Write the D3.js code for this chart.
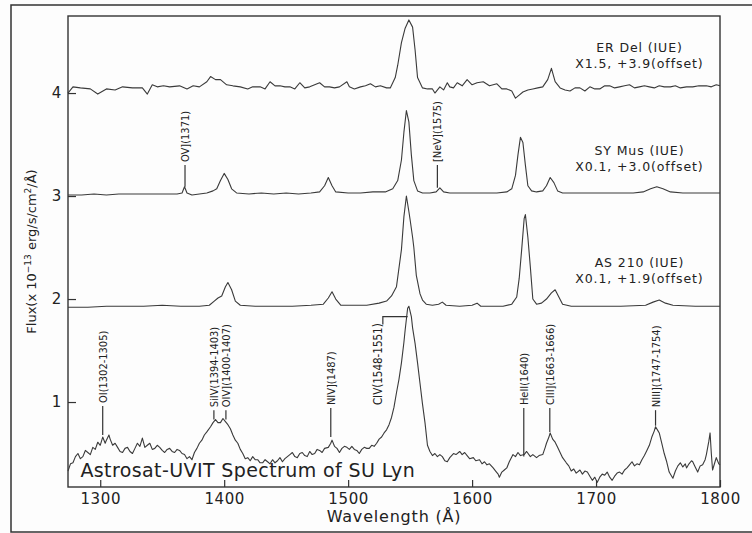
<!DOCTYPE html>
<html>
<head>
<meta charset="utf-8">
<script src="https://d3js.org/d3.v7.min.js"></script>
<style>
  body { margin: 0; background: #fdfdfd; }
  text { font-family: "DejaVu Sans", sans-serif; fill: #222; }
</style>
</head>
<body>
<script>
// spectra as [wavelength (A), plotted flux (already scaled + offset)]
const erDel = [[1274,4.00],[1278,4.06],[1284,4.05],[1292,4.04],[1298,3.99],[1305,4.04],[1312,4.03],[1318,4.06],[1326,4.05],[1334,4.05],[1338,3.99],[1342,4.08],[1346,4.06],[1351,4.07],[1356,4.06],[1364,4.07],[1370,4.04],[1375,4.07],[1380,4.06],[1386,4.11],[1389,4.16],[1393,4.13],[1397,4.13],[1402,4.08],[1407,4.07],[1413,4.06],[1419,4.04],[1423,4.06],[1429,4.06],[1433,4.04],[1437,4.11],[1441,4.07],[1445,4.07],[1449,4.06],[1453,4.06],[1457,4.04],[1461,4.10],[1465,4.05],[1469,4.06],[1473,4.08],[1477,4.10],[1481,4.06],[1485,4.06],[1489,4.05],[1493,4.06],[1499,4.11],[1501,4.06],[1505,4.04],[1510,4.06],[1514,4.07],[1518,4.09],[1522,4.06],[1526,4.07],[1531,4.05],[1534,4.05],[1538,4.15],[1540,4.27],[1543,4.49],[1546,4.63],[1549,4.71],[1552,4.64],[1554,4.42],[1556,4.15],[1560,4.05],[1564,4.04],[1568,4.04],[1570,4.00],[1574,4.06],[1577,4.03],[1580,4.10],[1582,4.06],[1585,4.05],[1588,4.10],[1592,4.07],[1596,4.13],[1600,4.08],[1604,4.10],[1609,4.11],[1614,4.07],[1620,4.09],[1624,4.04],[1628,4.04],[1632,4.02],[1635,3.95],[1638,3.98],[1641,4.01],[1645,4.03],[1649,4.04],[1653,4.05],[1657,4.06],[1661,4.13],[1664,4.24],[1667,4.11],[1671,4.05],[1675,4.03],[1679,4.02],[1683,4.05],[1687,4.05],[1691,4.02],[1695,4.06],[1699,4.04],[1703,4.04],[1707,4.07],[1711,4.07],[1715,4.05],[1719,4.06],[1723,4.07],[1727,4.08],[1731,4.05],[1735,4.06],[1739,4.07],[1743,4.06],[1747,4.05],[1751,4.07],[1755,4.06],[1760,4.06],[1764,4.07],[1768,4.05],[1773,4.06],[1778,4.06],[1783,4.07],[1789,4.07],[1793,4.06],[1797,4.08],[1800,4.07]];

const syMus = [[1274,3.01],[1285,3.01],[1295,3.02],[1305,3.01],[1315,3.02],[1325,3.02],[1335,3.02],[1345,3.02],[1355,3.02],[1362,3.02],[1366,3.03],[1368,3.09],[1370,3.03],[1374,3.01],[1380,3.02],[1386,3.03],[1391,3.05],[1394,3.07],[1397,3.15],[1400,3.22],[1403,3.16],[1406,3.07],[1410,3.03],[1420,3.02],[1430,3.03],[1440,3.02],[1450,3.03],[1460,3.02],[1470,3.03],[1477,3.04],[1481,3.10],[1484,3.18],[1487,3.10],[1490,3.04],[1500,3.03],[1510,3.03],[1520,3.04],[1530,3.04],[1536,3.07],[1540,3.15],[1543,3.35],[1545,3.62],[1547,3.83],[1549,3.72],[1551,3.40],[1553,3.15],[1556,3.05],[1560,3.03],[1566,3.03],[1571,3.04],[1574,3.08],[1577,3.04],[1582,3.03],[1590,3.03],[1600,3.03],[1610,3.03],[1620,3.03],[1628,3.04],[1632,3.07],[1635,3.20],[1637,3.40],[1639,3.57],[1641,3.52],[1643,3.30],[1645,3.10],[1648,3.05],[1652,3.04],[1657,3.05],[1660,3.10],[1663,3.18],[1666,3.13],[1669,3.05],[1673,3.03],[1680,3.03],[1690,3.03],[1700,3.03],[1710,3.03],[1720,3.03],[1730,3.03],[1738,3.04],[1744,3.07],[1749,3.09],[1754,3.07],[1760,3.04],[1770,3.03],[1780,3.03],[1790,3.03],[1800,3.03]];

const as210 = [[1274,1.92],[1290,1.92],[1305,1.93],[1320,1.93],[1335,1.93],[1350,1.94],[1365,1.93],[1380,1.93],[1388,1.94],[1392,1.98],[1395,2.01],[1398,2.03],[1401,2.12],[1403,2.16],[1406,2.09],[1409,1.98],[1413,1.94],[1425,1.93],[1440,1.93],[1455,1.93],[1470,1.94],[1480,1.95],[1484,2.01],[1487,2.07],[1490,2.00],[1494,1.94],[1505,1.94],[1515,1.94],[1525,1.96],[1531,1.98],[1535,2.03],[1539,2.12],[1543,2.48],[1545,2.80],[1547,3.00],[1549,2.85],[1550,2.77],[1552,2.60],[1553,2.50],[1555,2.23],[1558,2.05],[1560,1.99],[1563,1.95],[1568,1.94],[1573,1.95],[1576,1.97],[1579,1.94],[1590,1.93],[1600,1.94],[1604,1.96],[1607,1.93],[1615,1.93],[1625,1.93],[1632,1.95],[1636,2.02],[1638,2.20],[1640,2.48],[1642,2.78],[1643,2.82],[1645,2.60],[1647,2.31],[1649,2.00],[1652,1.95],[1656,1.96],[1660,2.00],[1664,2.06],[1667,2.09],[1670,2.02],[1673,1.95],[1680,1.93],[1700,1.93],[1720,1.93],[1740,1.94],[1746,1.97],[1751,1.99],[1756,1.96],[1762,1.94],[1780,1.93],[1800,1.93]];

const suLyn = [[1274,.33],[1276,.40],[1278,.41],[1280,.47],[1282,.50],[1284,.45],[1286,.47],[1288,.53],[1290,.51],[1292,.49],[1294,.56],[1296,.54],[1298,.61],[1300,.58],[1302,.66],[1304,.60],[1305,.63],[1307,.68],[1308,.64],[1310,.58],[1312,.60],[1314,.56],[1316,.52],[1318,.51],[1320,.55],[1322,.56],[1324,.52],[1326,.50],[1328,.55],[1330,.60],[1332,.57],[1334,.65],[1336,.56],[1338,.58],[1340,.60],[1342,.54],[1344,.55],[1346,.58],[1348,.56],[1350,.53],[1352,.51],[1354,.54],[1356,.55],[1358,.52],[1360,.51],[1362,.54],[1364,.53],[1366,.50],[1368,.49],[1370,.45],[1372,.47],[1374,.44],[1376,.51],[1378,.55],[1380,.60],[1382,.63],[1384,.68],[1386,.71],[1389,.76],[1391,.80],[1393,.83],[1395,.80],[1397,.80],[1399,.84],[1401,.81],[1403,.78],[1405,.74],[1407,.68],[1409,.63],[1411,.60],[1413,.54],[1415,.50],[1417,.45],[1419,.46],[1421,.43],[1423,.47],[1425,.44],[1427,.44],[1429,.41],[1431,.41],[1433,.44],[1435,.42],[1437,.40],[1439,.44],[1441,.41],[1443,.43],[1445,.46],[1447,.42],[1449,.45],[1451,.47],[1453,.49],[1455,.51],[1457,.47],[1459,.46],[1461,.50],[1463,.51],[1465,.48],[1467,.47],[1469,.52],[1471,.49],[1473,.50],[1475,.54],[1477,.53],[1479,.51],[1481,.55],[1484,.56],[1486,.60],[1487,.63],[1489,.57],[1491,.55],[1493,.51],[1495,.55],[1497,.57],[1499,.56],[1501,.54],[1503,.57],[1505,.54],[1507,.53],[1509,.50],[1511,.54],[1513,.56],[1515,.55],[1517,.55],[1519,.58],[1521,.57],[1523,.60],[1525,.64],[1527,.66],[1529,.70],[1531,.73],[1533,.78],[1535,.85],[1537,.95],[1539,1.09],[1541,1.22],[1543,1.38],[1545,1.58],[1546,1.70],[1548,1.91],[1549,1.93],[1551,1.83],[1552,1.72],[1554,1.57],[1556,1.38],[1558,1.18],[1560,.98],[1562,.80],[1564,.58],[1566,.52],[1568,.48],[1570,.50],[1572,.47],[1574,.49],[1576,.47],[1578,.43],[1580,.42],[1582,.46],[1585,.50],[1587,.49],[1590,.52],[1592,.49],[1594,.51],[1596,.48],[1598,.45],[1601,.46],[1603,.43],[1606,.44],[1608,.40],[1610,.42],[1612,.39],[1614,.40],[1617,.36],[1619,.33],[1621,.30],[1622,.27],[1624,.32],[1626,.34],[1628,.36],[1630,.42],[1633,.49],[1635,.47],[1637,.51],[1639,.48],[1642,.49],[1644,.52],[1647,.47],[1649,.49],[1652,.46],[1654,.48],[1657,.49],[1659,.56],[1660,.60],[1662,.66],[1663,.70],[1665,.64],[1667,.61],[1669,.56],[1671,.51],[1673,.46],[1676,.41],[1678,.38],[1680,.33],[1682,.35],[1684,.31],[1687,.34],[1689,.30],[1691,.33],[1693,.32],[1695,.28],[1697,.24],[1699,.27],[1701,.22],[1703,.27],[1705,.30],[1707,.29],[1709,.32],[1711,.27],[1713,.24],[1715,.28],[1717,.31],[1719,.32],[1721,.30],[1723,.34],[1725,.36],[1727,.39],[1729,.42],[1731,.38],[1733,.40],[1735,.39],[1737,.44],[1739,.48],[1741,.53],[1743,.58],[1745,.66],[1747,.72],[1748,.76],[1750,.72],[1751,.70],[1753,.60],[1755,.50],[1757,.42],[1759,.32],[1761,.28],[1762,.26],[1764,.33],[1766,.38],[1768,.41],[1770,.37],[1772,.40],[1773,.36],[1775,.40],[1777,.43],[1778,.42],[1780,.37],[1782,.32],[1784,.38],[1786,.39],[1788,.44],[1789,.49],[1791,.62],[1792,.70],[1793,.50],[1794,.34],[1796,.42],[1797,.46],[1799,.40],[1800,.39]];

const xTicks = [1300, 1400, 1500, 1600, 1700, 1800];
const yTicks = [1, 2, 3, 4];

// line identifications: label, wavelength, flux at label foot, flux at tick end
const lineLabels = [
  ["OI(1302-1305)", 1302, 0.99, 0.68],
  ["SiIV(1394-1403)", 1391.7, 0.95, 0.83],
  ["OIV](1400-1407)", 1401.4, 0.95, 0.83],
  ["NIV](1487)", 1486, 0.97, 0.66],
  ["HeII(1640)", 1641.7, 0.97, 0.47],
  ["CIII](1663-1666)", 1662.7, 0.97, 0.71],
  ["NIII](1747-1754)", 1748, 0.95, 0.77],
  ["OV](1371)", 1368.4, 3.33, 3.09],
  ["[NeV](1575)", 1572, 3.33, 3.08]
];
// CIV label sits left of the peak with a bracket
const civLabel = ["CIV(1548-1551)", 1524, 0.97, 1.83, 1528, 1548];

// source labels: two lines, wavelength of centre, flux of each line
const sourceNames = ["ER Del (IUE)", "SY Mus (IUE)", "AS 210 (IUE)"];
const sourceScales = ["X1.5, +3.9(offset)", "X0.1, +3.0(offset)", "X0.1, +1.9(offset)"];
const sourceFlux = [[4.445, 4.29], [3.445, 3.29], [2.355, 2.195]];

// set the dimensions and margins of the graph
const W = 752, H = 533;
const margin = { top: 16, right: 32, bottom: 46, left: 68 };

const svg = d3.select("body")
  .append("svg")
  .attr("width", W)
  .attr("height", H);

// outer frame of the figure
svg.append("rect")
  .attr("x", 11).attr("y", 5)
  .attr("width", 770).attr("height", 527)
  .attr("fill", "none")
  .attr("stroke", "#333")
  .attr("stroke-width", 1.5);

const x = d3.scaleLinear().domain([1274, 1800]).range([margin.left, W - margin.right]);
const y = d3.scaleLinear().domain([0.175, 4.748]).range([H - margin.bottom, margin.top]);

// axes with inward ticks
const xAxis = svg.append("g")
  .attr("transform", `translate(0, ${H - margin.bottom})`)
  .call(d3.axisBottom(x).tickValues(xTicks).tickSize(-7).tickPadding(6).tickFormat(d3.format("d")));
const yAxis = svg.append("g")
  .attr("transform", `translate(${margin.left}, 0)`)
  .call(d3.axisLeft(y).tickValues(yTicks).tickSize(-8).tickPadding(6).tickFormat(d3.format("d")));

[xAxis, yAxis].forEach(g => {
  g.select(".domain").remove();
  g.selectAll(".tick line").attr("stroke", "#333").attr("stroke-width", 1.2);
  g.selectAll("text")
    .attr("fill", "#222")
    .style("font-size", "15px")
    .style("letter-spacing", "0.6px")
    .style("font-family", "DejaVu Sans");
});

// plot frame
svg.append("rect")
  .attr("x", x(1274)).attr("y", y(4.748))
  .attr("width", x(1800) - x(1274)).attr("height", y(0.175) - y(4.748))
  .attr("fill", "none")
  .attr("stroke", "#333")
  .attr("stroke-width", 1.4);

// spectra
const line = d3.line().x(d => x(d[0])).y(d => y(d[1]));
[erDel, syMus, as210, suLyn].forEach(s => {
  svg.append("path")
    .datum(s)
    .attr("d", line)
    .attr("fill", "none")
    .attr("stroke", "#3a3a3a")
    .attr("stroke-width", 1.1)
    .attr("stroke-linejoin", "round");
});

// line identifications, text runs upward from the foot
const ids = svg.append("g");
lineLabels.forEach(d => {
  const px = x(d[1]);
  ids.append("text")
    .attr("transform", `translate(${px + 4}, ${y(d[2])}) rotate(-90)`)
    .style("font-size", "11px")
    .style("font-family", "DejaVu Sans Condensed, DejaVu Sans")
    .text(d[0]);
  ids.append("line")
    .attr("x1", px).attr("x2", px)
    .attr("y1", y(d[2]) + 3).attr("y2", y(d[3]))
    .attr("stroke", "#333").attr("stroke-width", 1.2);
});
ids.append("text")
  .attr("transform", `translate(${x(civLabel[1]) + 4}, ${y(civLabel[2])}) rotate(-90)`)
  .style("font-size", "11.5px")
  .style("font-family", "DejaVu Sans Condensed, DejaVu Sans")
  .text(civLabel[0]);
ids.append("path")
  .attr("d", `M${x(civLabel[4])},${y(civLabel[3]) + 8}V${y(civLabel[3])}H${x(civLabel[5])}`)
  .attr("fill", "none")
  .attr("stroke", "#333").attr("stroke-width", 1.2);

// source labels
sourceNames.forEach((n, i) => {
  [n, sourceScales[i]].forEach((t, j) => {
    svg.append("text")
      .attr("x", x(1735))
      .attr("y", y(sourceFlux[i][j]))
      .attr("text-anchor", "middle")
      .attr("dominant-baseline", "central")
      .attr("fill", "#333")
      .style("font-size", "12.5px")
      .style("letter-spacing", "0.9px")
      .text(t);
  });
});

// title inside plot
svg.append("text")
  .attr("x", x(1284))
  .attr("y", y(0.27))
  .style("font-size", "19px")
  .style("letter-spacing", "0.4px")
  .attr("fill", "#222")
  .text("Astrosat-UVIT Spectrum of SU Lyn");

// axis labels
svg.append("text")
  .attr("x", (x(1274) + x(1800)) / 2)
  .attr("y", 522)
  .attr("text-anchor", "middle")
  .style("font-size", "16px")
  .style("letter-spacing", "0.8px")
  .text("Wavelength (Å)");

const yl = svg.append("text")
  .attr("transform", `translate(36, ${(y(0.175) + y(4.748)) / 2}) rotate(-90)`)
  .attr("text-anchor", "middle")
  .style("font-size", "13px");
yl.append("tspan").text("Flux(x 10");
yl.append("tspan").attr("dy", -5).style("font-size", "9px").text("−13");
yl.append("tspan").attr("dy", 5).text(" erg/s/cm");
yl.append("tspan").attr("dy", -5).style("font-size", "9px").text("2");
yl.append("tspan").attr("dy", 5).text("/Å)");
</script>
</body>
</html>
